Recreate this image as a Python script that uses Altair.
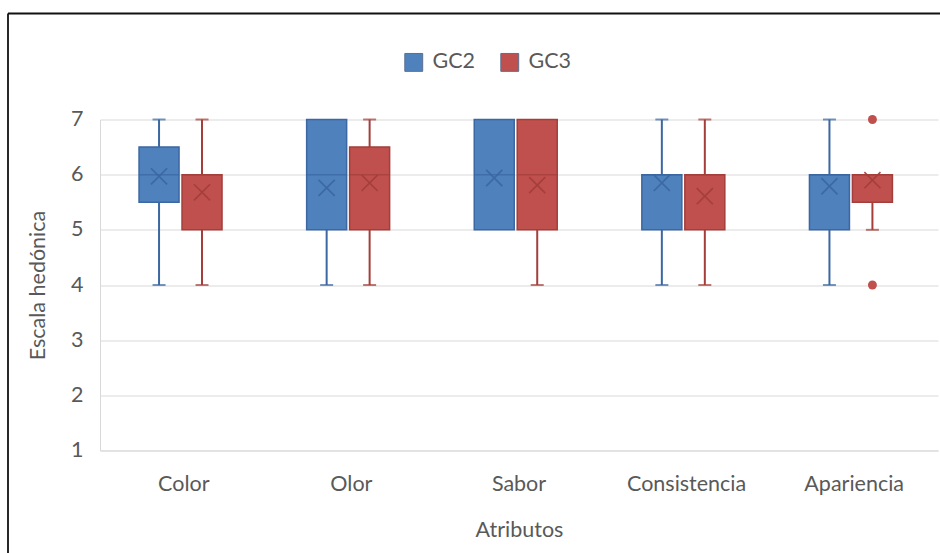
import altair as alt
import pandas as pd

# Sensory evaluation: hedonic scores per attribute for two groups
atributos = ["Color", "Olor", "Sabor", "Consistencia", "Apariencia"]
grupos = ["GC2", "GC3"]

gc2_min = [4, 4, 5, 4, 4]
gc2_q1 = [5.5, 5, 5, 5, 5]
gc2_mediana = [6, 6, 6, 6, 6]
gc2_q3 = [6.5, 7, 7, 6, 6]
gc2_max = [7, 7, 7, 7, 7]
gc2_media = [5.97, 5.76, 5.94, 5.85, 5.79]

gc3_min = [4, 4, 4, 4, 5]
gc3_q1 = [5, 5, 5, 5, 5.5]
gc3_mediana = [6, 6, 6, 6, 6]
gc3_q3 = [6, 6.5, 7, 6, 6]
gc3_max = [7, 7, 7, 7, 6]
gc3_media = [5.68, 5.85, 5.81, 5.61, 5.90]

atipicos_atributo = ["Apariencia", "Apariencia"]
atipicos_grupo = ["GC3", "GC3"]
atipicos_valor = [7, 4]

relleno = ["#4F81BD", "#C0504D"]
borde = ["#3B67A2", "#A33E3B"]

FONT = "Lato"
FS = 21.5
GRIS = "#595959"
GRID = "#D9D9D9"

filas = []
for grupo, mn, q1, med, q3, mx, media in [
    ("GC2", gc2_min, gc2_q1, gc2_mediana, gc2_q3, gc2_max, gc2_media),
    ("GC3", gc3_min, gc3_q1, gc3_mediana, gc3_q3, gc3_max, gc3_media),
]:
    for i, a in enumerate(atributos):
        filas.append(dict(atributo=a, grupo=grupo, min=mn[i], q1=q1[i],
                          mediana=med[i], q3=q3[i], max=mx[i], media=media[i]))
df = pd.DataFrame(filas)
df_atip = pd.DataFrame(dict(atributo=atipicos_atributo, grupo=atipicos_grupo,
                            valor=atipicos_valor))

x_enc = alt.X("atributo:N", sort=atributos,
              scale=alt.Scale(paddingInner=0, paddingOuter=0),
              axis=alt.Axis(title="Atributos", labelAngle=0, ticks=False,
                            labelPadding=23, titlePadding=24,
                            domainColor=GRID, grid=False))
xo_enc = alt.XOffset("grupo:N", sort=grupos,
                     scale=alt.Scale(paddingInner=0, paddingOuter=0.95,
                                     align=0.46))
y_scale = alt.Scale(domain=[1, 7], nice=False, zero=False)
y_axis = alt.Axis(title="Escala hedónica", values=[1, 2, 3, 4, 5, 6, 7],
                  ticks=False, labelPadding=17, titlePadding=21,
                  domainColor=GRID, gridColor=GRID)

fill_enc = alt.Color("grupo:N", sort=grupos,
                     scale=alt.Scale(domain=grupos, range=relleno),
                     legend=alt.Legend(
                         title=None, orient="none", direction="horizontal",
                         legendX=303, legendY=-68,
                         symbolType="square", symbolSize=320,
                         symbolStrokeWidth=1, symbolStrokeColor="#5a6f8f",
                         columnPadding=22,
                         labelOffset=8, labelFontSize=FS,
                         labelFont=FONT, labelColor=GRIS))
# darker outline colour per group (no scale, so no extra legend)
oscuro = alt.condition("datum.grupo == 'GC2'",
                       alt.value(borde[0]), alt.value(borde[1]))

base = alt.Chart(df)

bigote_inf = base.mark_rule(strokeWidth=2).encode(
    x=x_enc, xOffset=xo_enc,
    y=alt.Y("min:Q", scale=y_scale, axis=y_axis), y2="q1:Q",
    stroke=oscuro,
).transform_filter("datum.min < datum.q1")

bigote_sup = base.mark_rule(strokeWidth=2).encode(
    x=x_enc, xOffset=xo_enc,
    y=alt.Y("q3:Q", scale=y_scale, axis=y_axis), y2="max:Q",
    stroke=oscuro,
).transform_filter("datum.max > datum.q3")

tope_inf = base.mark_tick(thickness=2, size=13).encode(
    x=x_enc, xOffset=xo_enc,
    y=alt.Y("min:Q", scale=y_scale, axis=y_axis),
    fill=oscuro,
).transform_filter("datum.min < datum.q1")

tope_sup = base.mark_tick(thickness=2, size=13).encode(
    x=x_enc, xOffset=xo_enc,
    y=alt.Y("max:Q", scale=y_scale, axis=y_axis),
    fill=oscuro,
).transform_filter("datum.max > datum.q3")

caja = base.mark_bar(width=40, strokeWidth=1.5, opacity=1).encode(
    x=x_enc, xOffset=xo_enc,
    y=alt.Y("q1:Q", scale=y_scale, axis=y_axis), y2="q3:Q",
    color=fill_enc, stroke=oscuro,
)

mediana = base.mark_tick(thickness=1.5, size=40).encode(
    x=x_enc, xOffset=xo_enc,
    y=alt.Y("mediana:Q", scale=y_scale, axis=y_axis),
    fill=oscuro,
)

media = base.mark_point(shape="M-1,-1L1,1M-1,1L1,-1", size=260,
                        filled=False, strokeWidth=1.7, opacity=0.9).encode(
    x=x_enc, xOffset=xo_enc,
    y=alt.Y("media:Q", scale=y_scale, axis=y_axis),
    stroke=oscuro,
)

atipicos = alt.Chart(df_atip).mark_circle(size=80, opacity=1).encode(
    x=x_enc, xOffset=xo_enc,
    y=alt.Y("valor:Q", scale=y_scale, axis=y_axis),
    color=fill_enc,
)

marco_data = alt.Data(values=[{}])
marco_izq = alt.Chart(marco_data).mark_rule(color="#111", strokeWidth=1.8).encode(
    x=alt.value(-92), y=alt.value(-106), y2=alt.value(460))
marco_sup = alt.Chart(marco_data).mark_rule(color="#111", strokeWidth=1.8).encode(
    x=alt.value(-92), x2=alt.value(850), y=alt.value(-106))

chart = alt.layer(
    bigote_inf, bigote_sup, tope_inf, tope_sup, caja, mediana, media,
    atipicos, marco_izq, marco_sup,
).properties(
    width=838, height=331,
    autosize=alt.AutoSizeParams(type="none"),
    padding={"left": 100, "top": 119.5, "right": 2, "bottom": 102.5},
).configure_view(stroke=None).configure_axis(
    labelFont=FONT, labelFontSize=FS, labelColor=GRIS,
    titleFont=FONT, titleFontSize=FS, titleColor=GRIS,
    titleFontWeight="normal", gridColor=GRID, gridWidth=1,
).configure_axisX(grid=False)

chart.save("out.html", embed_options={"renderer": "svg", "actions": False})
